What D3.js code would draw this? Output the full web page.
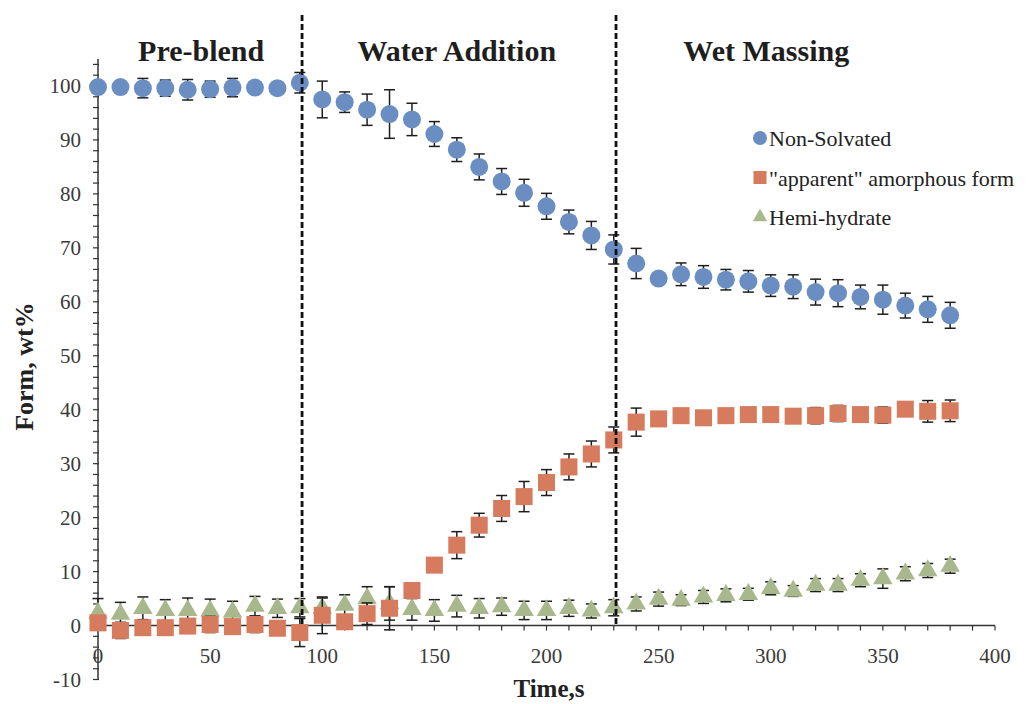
<!DOCTYPE html>
<html>
<head>
<meta charset="utf-8">
<script src="https://cdn.jsdelivr.net/npm/d3@7"></script>
<style>
  html, body { margin: 0; padding: 0; background: #fff; }
  #chart { width: 1031px; height: 704px; }
</style>
</head>
<body>
<div id="chart"></div>
<script>
const times = [0, 10, 20, 30, 40, 50, 60, 70, 80, 90, 100, 110, 120, 130, 140, 150, 160, 170, 180, 190,
  200, 210, 220, 230, 240, 250, 260, 270, 280, 290, 300, 310, 320, 330, 340, 350, 360, 370, 380];

const nonSolvated = [99.8, 99.8, 99.6, 99.6, 99.3, 99.4, 99.7, 99.7, 99.6, 100.6, 97.5, 97.0, 95.6, 94.8, 93.8,
  91.1, 88.2, 85.0, 82.3, 80.2, 77.7, 74.8, 72.3, 69.7, 67.1, 64.3, 65.1, 64.6, 64.1, 63.8, 63.0, 62.8,
  61.8, 61.6, 60.9, 60.4, 59.3, 58.6, 57.5];
const nonSolvatedErr = [0.6, 0.6, 1.8, 1.5, 1.9, 1.5, 1.7, 0.6, 1.0, 1.9, 3.4, 1.9, 2.9, 4.5, 3.0, 2.3, 2.2,
  2.4, 2.4, 2.5, 2.4, 2.2, 2.6, 2.7, 2.8, 0.8, 2.1, 2.1, 1.9, 2.0, 2.0, 2.2, 2.4, 2.5, 2.2, 2.7, 2.3, 2.4, 2.4];

const amorphous = [0.5, -0.9, -0.4, -0.4, -0.1, 0.2, -0.2, 0.2, -0.5, -1.3, 1.9, 0.7, 2.2, 3.2, 6.5, 11.2,
  14.9, 18.6, 21.7, 23.9, 26.5, 29.4, 31.8, 34.4, 37.7, 38.3, 38.9, 38.5, 38.9, 39.1, 39.1, 38.8, 38.9,
  39.3, 39.1, 39.0, 40.1, 39.7, 39.8];
const amorphousErr = [0.6, 1.5, 0.6, 0.6, 0.6, 1.5, 0.6, 1.5, 0.6, 2.6, 3.4, 1.0, 2.0, 4.0, 0.6, 0.6, 2.5,
  2.2, 2.4, 2.8, 2.4, 2.4, 2.4, 2.4, 2.6, 0.6, 0.6, 0.6, 0.6, 0.6, 0.6, 0.6, 1.5, 1.5, 1.0, 1.5, 1.3, 2.0, 2.0];

const hemiHydrate = [2.3, 2.1, 3.2, 2.8, 2.8, 2.7, 2.5, 3.6, 3.2, 3.3, 3.2, 3.8, 5.0, 4.1, 3.0, 2.8, 3.6,
  3.2, 3.5, 2.8, 2.8, 3.2, 2.7, 3.3, 4.0, 4.9, 4.7, 5.3, 5.6, 5.8, 6.9, 6.4, 7.5, 7.5, 8.4, 8.7, 9.6, 10.2, 11.0];
const hemiHydrateErr = [2.7, 2.2, 2.1, 2.0, 2.3, 2.2, 2.0, 1.8, 1.7, 1.7, 1.9, 1.9, 2.2, 3.1, 2.0, 2.0, 2.0,
  1.8, 1.6, 1.7, 1.7, 1.5, 1.3, 1.5, 1.3, 1.3, 1.0, 1.2, 1.2, 1.1, 1.2, 1.0, 1.2, 1.2, 1.2, 1.8, 1.3, 1.3, 1.3];

const xTicks = [0, 50, 100, 150, 200, 250, 300, 350, 400];
const yTicks = [-10, 0, 10, 20, 30, 40, 50, 60, 70, 80, 90, 100];
const phaseBounds = [91, 231];
const phases = [
  { label: 'Pre-blend', x: 46 },
  { label: 'Water Addition', x: 160 },
  { label: 'Wet Massing', x: 298 }
];

const series = [
  { name: 'Hemi-hydrate', values: hemiHydrate, err: hemiHydrateErr, color: '#a9b78c', shape: 'triangle' },
  { name: '"apparent" amorphous form', values: amorphous, err: amorphousErr, color: '#d67b5d', shape: 'square' },
  { name: 'Non-Solvated', values: nonSolvated, err: nonSolvatedErr, color: '#6b8ec2', shape: 'circle' }
];
const legendOrder = ['Non-Solvated', '"apparent" amorphous form', 'Hemi-hydrate'];

const FONT = '"Liberation Serif", "Times New Roman", serif';
const width = 1031, height = 704;
const svg = d3.select('#chart').append('svg')
  .attr('width', width)
  .attr('height', height);

const x = d3.scaleLinear().domain([0, 400]).range([98, 995]);
const y = d3.scaleLinear().domain([-10, 105]).range([679.5, 59]);

const axisColor = '#333';
const tickText = '#3a3a3a';

// y axis
const yAxis = svg.append('g').attr('transform', `translate(${x(0)},0)`);
yAxis.append('line')
  .attr('y1', y(-10)).attr('y2', y(105))
  .attr('stroke', axisColor).attr('stroke-width', 1.5);
yAxis.selectAll('.ytick')
  .data(d3.range(-10, 105, 2))
  .enter().append('line')
  .attr('x1', -5).attr('x2', 1)
  .attr('y1', d => y(d)).attr('y2', d => y(d))
  .attr('stroke', axisColor).attr('stroke-width', 1.2);
yAxis.selectAll('.ylabel')
  .data(yTicks)
  .enter().append('text')
  .attr('x', -17)
  .attr('y', d => y(d))
  .attr('dy', '0.35em')
  .attr('text-anchor', 'end')
  .attr('font-family', FONT)
  .attr('font-size', '21px')
  .attr('fill', tickText)
  .text(d => d);

// x axis
const xAxis = svg.append('g').attr('transform', `translate(0,${y(0)})`);
xAxis.append('line')
  .attr('x1', x(0)).attr('x2', x(400))
  .attr('stroke', axisColor).attr('stroke-width', 1.5);
xAxis.selectAll('.xtick')
  .data(d3.range(0, 401, 10))
  .enter().append('line')
  .attr('x1', d => x(d)).attr('x2', d => x(d))
  .attr('y1', 0).attr('y2', 5)
  .attr('stroke', axisColor).attr('stroke-width', 1.2);
svg.selectAll('.xlabel')
  .data(xTicks)
  .enter().append('text')
  .attr('x', d => x(d))
  .attr('y', 663)
  .attr('text-anchor', 'middle')
  .attr('font-family', FONT)
  .attr('font-size', '21px')
  .attr('fill', tickText)
  .text(d => d);

// axis titles
svg.append('text')
  .attr('transform', `translate(33,${y(48)}) rotate(-90)`)
  .attr('text-anchor', 'middle')
  .attr('font-family', FONT)
  .attr('font-size', '26px')
  .attr('font-weight', 'bold')
  .attr('fill', '#222')
  .text('Form, wt%');

svg.append('text')
  .attr('x', 549)
  .attr('y', 697)
  .attr('text-anchor', 'middle')
  .attr('font-family', FONT)
  .attr('font-size', '25px')
  .attr('font-weight', 'bold')
  .attr('fill', '#222')
  .text('Time,s');

// series: error bars then markers
const triangle = d3.symbol(d3.symbolTriangle, 165);
const square = d3.symbol(d3.symbolSquare, 290);

series.forEach(s => {
  const pts = times.map((t, i) => ({ t, v: s.values[i], e: s.err[i] }));
  const g = svg.append('g');
  const eb = g.selectAll('.err').data(pts).enter().append('g')
    .attr('stroke', '#1e1e1e').attr('stroke-width', 1.5);
  eb.append('line')
    .attr('x1', d => x(d.t)).attr('x2', d => x(d.t))
    .attr('y1', d => y(d.v - d.e)).attr('y2', d => y(d.v + d.e));
  eb.append('line')
    .attr('x1', d => x(d.t) - 5.5).attr('x2', d => x(d.t) + 5.5)
    .attr('y1', d => y(d.v + d.e)).attr('y2', d => y(d.v + d.e));
  eb.append('line')
    .attr('x1', d => x(d.t) - 5.5).attr('x2', d => x(d.t) + 5.5)
    .attr('y1', d => y(d.v - d.e)).attr('y2', d => y(d.v - d.e));

  const marks = g.selectAll('.mark').data(pts).enter();
  if (s.shape === 'circle') {
    marks.append('circle')
      .attr('cx', d => x(d.t)).attr('cy', d => y(d.v))
      .attr('r', 9).attr('fill', s.color);
  } else {
    marks.append('path')
      .attr('d', s.shape === 'square' ? square : triangle)
      .attr('transform', d => `translate(${x(d.t)},${y(d.v)})`)
      .attr('fill', s.color);
  }
});

// phase boundaries
svg.selectAll('.phase-line')
  .data(phaseBounds)
  .enter().append('line')
  .attr('x1', d => x(d)).attr('x2', d => x(d))
  .attr('y1', 15).attr('y2', y(0))
  .attr('stroke', '#111')
  .attr('stroke-width', 2.8)
  .attr('stroke-dasharray', '6,3');

svg.selectAll('.phase-label')
  .data(phases)
  .enter().append('text')
  .attr('x', d => x(d.x))
  .attr('y', 61)
  .attr('text-anchor', 'middle')
  .attr('font-family', FONT)
  .attr('font-size', '30px')
  .attr('font-weight', 'bold')
  .attr('fill', '#1e1e1e')
  .text(d => d.label);

// legend
const legend = svg.append('g').attr('transform', 'translate(760,138)');
legendOrder.forEach((name, i) => {
  const s = series.find(d => d.name === name);
  const row = legend.append('g').attr('transform', `translate(0,${i * 39.5})`);
  if (s.shape === 'circle') {
    row.append('circle').attr('r', 7).attr('fill', s.color);
  } else {
    row.append('path')
      .attr('d', d3.symbol(s.shape === 'square' ? d3.symbolSquare : d3.symbolTriangle, s.shape === 'square' ? 170 : 90))
      .attr('fill', s.color);
  }
  row.append('text')
    .attr('x', 9)
    .attr('y', 8)
    .attr('font-family', FONT)
    .attr('font-size', '22px')
    .attr('fill', '#222')
    .text(name);
});
</script>
</body>
</html>
